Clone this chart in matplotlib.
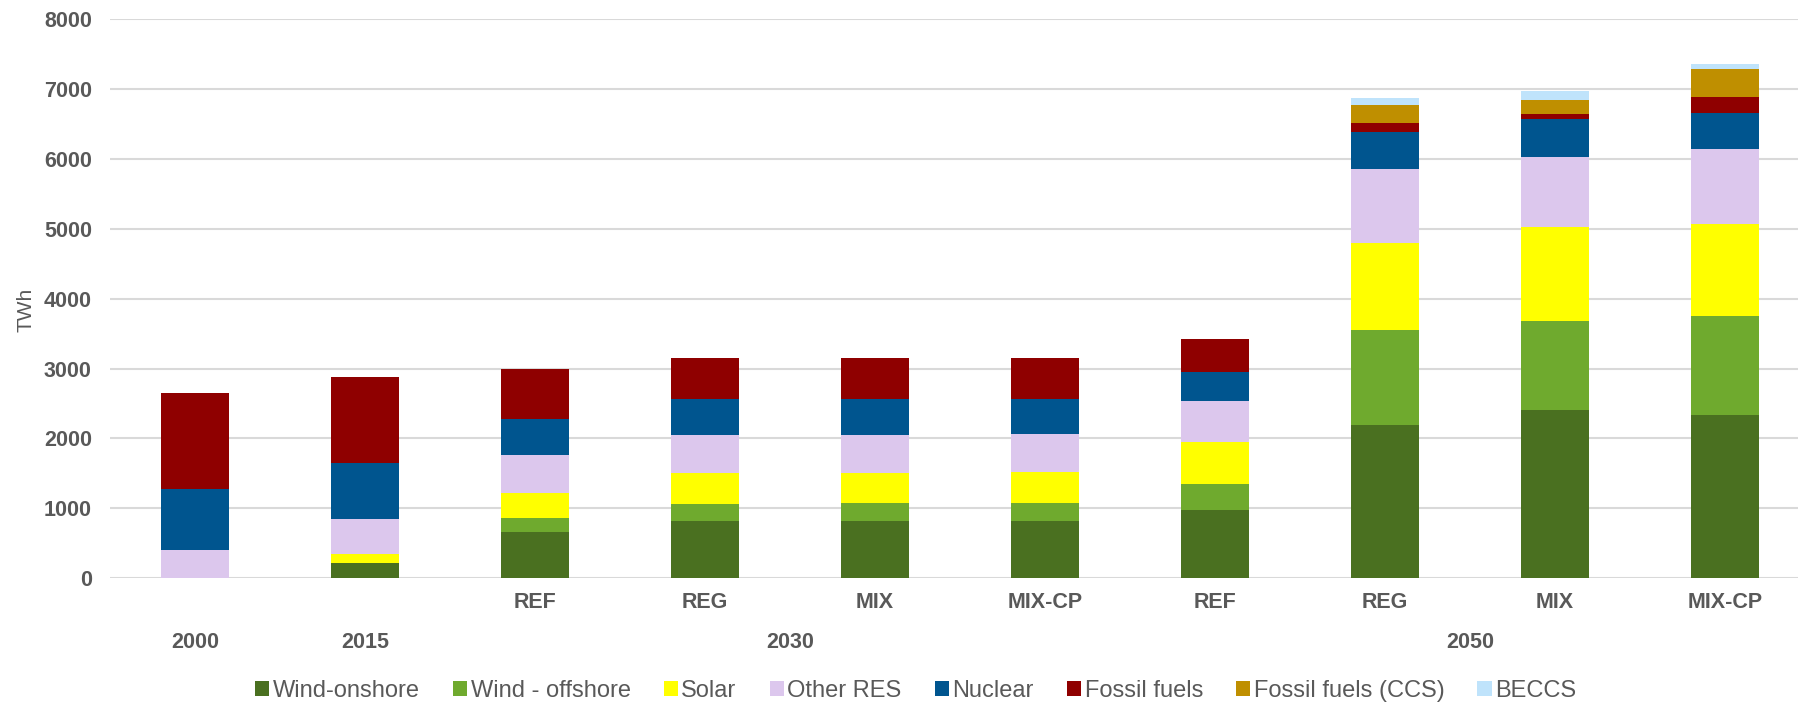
import numpy as np
import matplotlib.pyplot as plt
from matplotlib.transforms import blended_transform_factory

plt.rcParams['font.family'] = ['Liberation Sans', 'DejaVu Sans']

# bar labels (scenario row) and year groups
scenarios = ['', '', 'REF', 'REG', 'MIX', 'MIX-CP', 'REF', 'REG', 'MIX', 'MIX-CP']
years = ['2000', '2015', '2030', '2050']
year_pos = [0, 1, 3.5, 7.5]

# generation by source, TWh
wind_onshore = [0, 215, 667, 824, 824, 824, 981, 2189, 2406, 2330]
wind_offshore = [0, 0, 200, 235, 253, 258, 368, 1364, 1280, 1427]
solar = [0, 137, 353, 443, 434, 443, 601, 1248, 1335, 1316]
other_res = [410, 500, 544, 544, 535, 535, 591, 1055, 1006, 1064]
nuclear = [870, 792, 519, 515, 515, 510, 406, 529, 544, 513]
fossil = [1370, 1235, 707, 586, 586, 577, 472, 133, 76, 236]
fossil_ccs = [0, 0, 0, 0, 0, 0, 0, 258, 196, 404]
beccs = [0, 0, 0, 0, 0, 0, 0, 91, 133, 68]

series = [('Wind-onshore', wind_onshore, '#4a7020'),
          ('Wind - offshore', wind_offshore, '#6faa2e'),
          ('Solar', solar, '#ffff00'),
          ('Other RES', other_res, '#dcc7ed'),
          ('Nuclear', nuclear, '#00558f'),
          ('Fossil fuels', fossil, '#8f0000'),
          ('Fossil fuels (CCS)', fossil_ccs, '#bf8f00'),
          ('BECCS', beccs, '#bfe3fb')]

grey = '#595959'

fig = plt.figure(figsize=(17.99, 7.03), dpi=100)
ax = fig.add_axes([0.0611, 0.1774, 0.9389, 0.7956])

x = np.arange(len(scenarios))
bottom = np.zeros(len(scenarios))
for name, vals, col in series:
    ax.bar(x, vals, 0.4, bottom=bottom, color=col, label=name, zorder=3)
    bottom += np.array(vals)

ax.set_ylim(0, 8000)
ax.set_xlim(-0.5, 9.435)
ax.set_yticks(np.arange(0, 8001, 1000))
ax.yaxis.grid(True, color='#d9d9d9', linewidth=1.5, zorder=0)
ax.tick_params(axis='y', length=0, pad=13, labelsize=15.5, labelcolor=grey)
for lab in ax.get_yticklabels():
    lab.set_fontweight('bold')
ax.set_xticks([])
for s in ax.spines.values():
    s.set_visible(False)

ax.set_ylabel('TWh', fontsize=15, color=grey)
ax.yaxis.set_label_coords(-0.044, 0.48)

#Two rows of category labels under the bars
tr = blended_transform_factory(ax.transData, fig.transFigure)
for i, s in enumerate(scenarios):
    ax.text(i, 1 - 603 / 703, s, transform=tr, ha='center', va='center',
            fontsize=15.5, fontweight='bold', color=grey)
for p, y in zip(year_pos, years):
    ax.text(p, 1 - 642 / 703, y, transform=tr, ha='center', va='center',
            fontsize=15.5, fontweight='bold', color=grey)

leg = fig.legend(loc='center', bbox_to_anchor=(0.509, 1 - 691 / 703), ncol=8,
                 frameon=False, fontsize=17, handlelength=0.6, handleheight=0.6,
                 handletextpad=0.15, columnspacing=1.4)
for t in leg.get_texts():
    t.set_color(grey)

fig.savefig('out.png', dpi=100)
